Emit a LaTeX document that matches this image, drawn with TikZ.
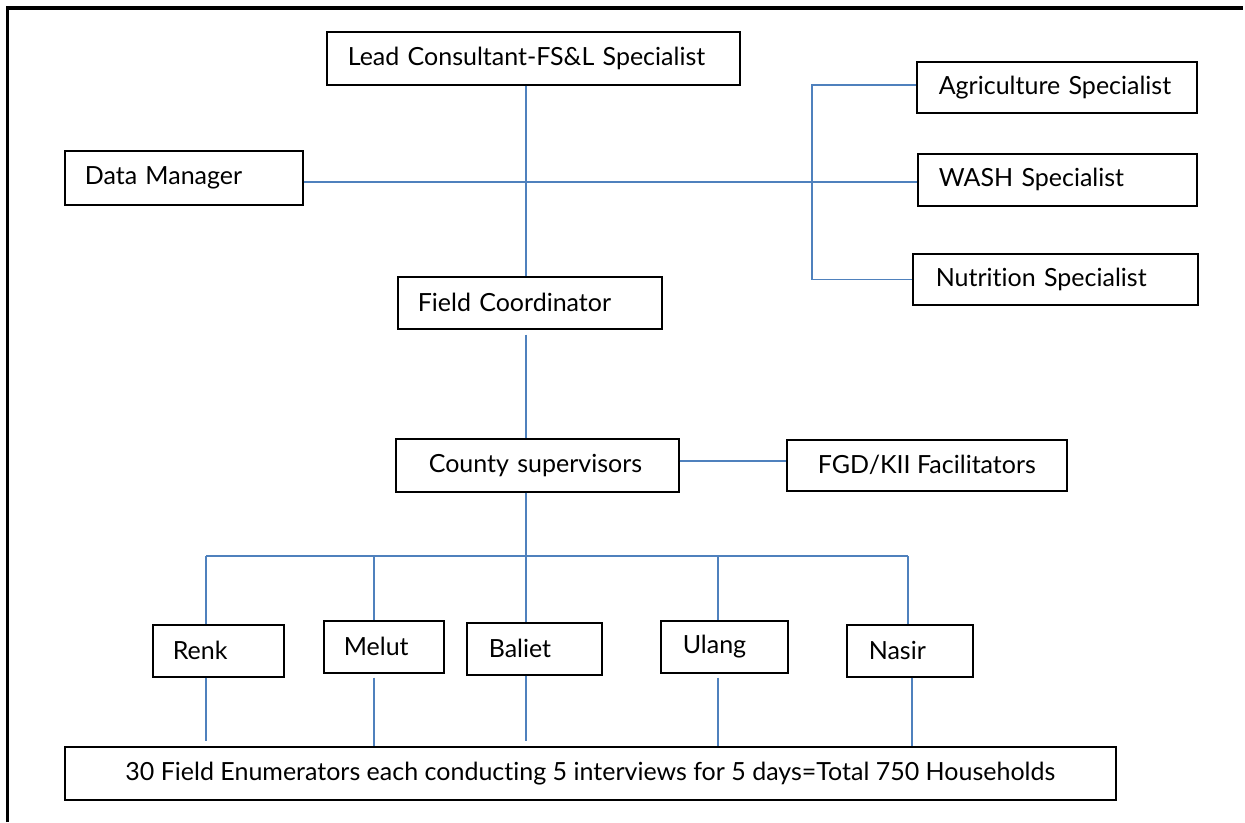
\documentclass[tikz,border=0pt]{standalone}
\usepackage{fontspec}
\setmainfont{Lato}[Ligatures=NoCommon]
\usetikzlibrary{calc}
\definecolor{conn}{HTML}{4F81BD}
\tikzset{
  box/.style={draw=black, line width=1.6pt, rectangle, inner ysep=0pt, anchor=north west,
              font=\fontsize{25}{28}\selectfont, align=left},
  cbox/.style={box, align=center},
  link/.style={draw=conn, line width=1.6pt},
  frame/.style={draw=black, line width=3.5pt}
}
% #1 name, #2 x1, #3 y1, #4 x2, #5 y2, #6 left padding, #7 text
\newcommand\mybox[7]{%
  \pgfmathsetmacro\bw{#4-#2}\pgfmathsetmacro\bh{#5-#3}\pgfmathsetmacro\tw{#4-#2-2*#6}%
  \node[box, minimum width=\bw pt, minimum height=\bh pt, inner xsep=#6pt, text width=\tw pt] (#1) at (#2,#3) {#7};}
\begin{document}
\begin{tikzpicture}[x=1pt,y=-1pt]
\useasboundingbox (0,0) rectangle (1245,822);
\draw[frame] (7.5,822) -- (7.5,8) -- (1243,8);

\mybox{lead}{326}{31}{739}{84}{21}{Lead Consultant-FS\&L Specialist}
\mybox{dm}{64}{150}{302}{204}{20}{Data Manager}
\mybox{agri}{916}{61}{1196}{112}{22}{Agriculture Specialist}
\mybox{wash}{917}{153}{1196}{205}{21}{WASH Specialist}
\mybox{nutr}{912}{253}{1197}{304}{23}{Nutrition Specialist}
\mybox{fc}{397}{276}{661}{328}{20}{Field Coordinator}
\mybox{cs}{395}{438}{678}{491}{33}{County supervisors}
\node[cbox, minimum width=280pt, minimum height=51pt, inner xsep=4pt] (fgd) at (786,439) {FGD/KII Facilitators};
\mybox{renk}{152}{624}{283}{676}{20}{Renk}
\mybox{melut}{323}{620}{443}{672}{20}{Melut}
\mybox{baliet}{466}{622}{601}{674}{22}{Baliet}
\mybox{ulang}{660}{620}{787}{672}{22}{Ulang}
\mybox{nasir}{846}{624}{972}{676}{22}{Nasir}
\node[cbox, minimum width=1051pt, minimum height=53pt, inner xsep=4pt] (enum) at (64,746) {30 Field Enumerators each conducting 5 interviews for 5 days=Total 750 Households};

\coordinate (sp) at (526,0);
\coordinate (hy) at (0,182);
\coordinate (bx) at (812,0);
\coordinate (busy) at (0,556);
\coordinate (xr) at (206,0);
\coordinate (xm) at (374,0);
\coordinate (xu) at (718,0);
\coordinate (xn) at (908,0);
\coordinate (xn2) at (912,0);

% top spine
\draw[link] (lead.south -| sp) -- (fc.north -| sp);
\draw[link] (dm.east |- hy) -- (wash.west |- hy);
\draw[link] ([yshift=2.5pt]agri.west) -- ([yshift=2.5pt]agri.west -| bx) -- (nutr.west -| bx) -- (nutr.west);
\draw[link, shorten <=5pt] (fc.south -| sp) -- (cs.north -| sp);
\draw[link] ([yshift=4.5pt]cs.east) -- ([yshift=4.5pt]fgd.west);
\draw[link] (cs.south -| sp) -- (baliet.north -| sp);
% bus
\draw[link] (busy -| xr) -- (busy -| xn);
\draw[link] (busy -| xr) -- (renk.north -| xr);
\draw[link] (busy -| xm) -- (melut.north -| xm);
\draw[link] (busy -| xu) -- (ulang.north -| xu);
\draw[link] (busy -| xn) -- (nasir.north -| xn);
% to enumerators
\draw[link, shorten >=5pt] (renk.south -| xr) -- (enum.north -| xr);
\draw[link, shorten <=4pt] (melut.south -| xm) -- (enum.north -| xm);
\draw[link, shorten >=5pt] (baliet.south -| sp) -- (enum.north -| sp);
\draw[link, shorten <=4pt] (ulang.south -| xu) -- (enum.north -| xu);
\draw[link] (nasir.south -| xn2) -- (enum.north -| xn2);
\end{tikzpicture}
\end{document}
